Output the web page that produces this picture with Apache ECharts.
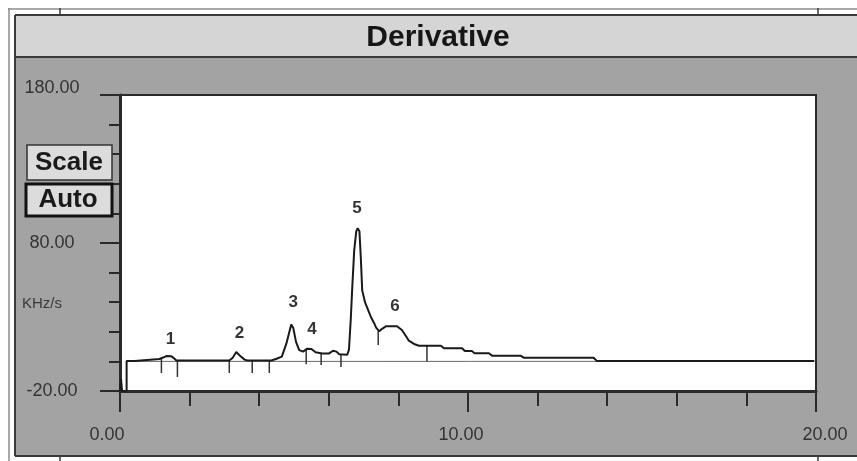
<!DOCTYPE html>
<html><head><meta charset="utf-8">
<script src="https://cdn.jsdelivr.net/npm/echarts@6/dist/echarts.min.js"></script>
<style>html,body{margin:0;padding:0;background:#fff}#c{width:857px;height:461px}</style>
</head><body><div id="c"></div>
<script>
// ---- data ----
const times = [0.00,0.03,0.06,0.19,0.19,0.42,0.45,1.13,1.24,1.33,1.48,1.56,1.62,3.14,3.24,3.34,3.44,3.58,3.66,4.35,4.50,4.65,4.78,4.92,4.98,5.06,5.15,5.26,5.38,5.50,5.62,5.81,6.01,6.12,6.22,6.30,6.53,6.58,6.63,6.67,6.73,6.79,6.83,6.88,6.92,6.96,7.04,7.10,7.21,7.30,7.36,7.45,7.53,7.65,7.96,8.10,8.22,8.30,8.45,8.59,9.22,9.31,9.83,9.91,10.11,10.19,10.60,10.69,11.51,11.60,13.61,13.70,19.95];
const signal = [-20,-12,-20,-20,0.3,0.3,1.6,1.6,2.6,3.6,3.4,2.0,0.6,0.6,2.5,6.3,4.0,1.2,0.6,0.6,1.8,3.2,12,25,22.5,13,7.6,6.6,8.6,8.4,6.2,5.4,5.4,7.2,6.6,4.8,4.5,8,28,48,75,88,90,88,70,48,40,36.5,30,26,22.8,20.3,22,23.8,23.8,21.2,17,14,11.8,10.6,10.6,8.9,8.9,7.0,7.0,5.5,5.5,3.9,3.9,2.5,2.5,0.35,0.35];
const baselineTimes = [0.19, 19.95];
const baselineValues = [0, 0];
const dropTimes   = [1.19, 1.65, 3.14, 3.80, 4.29, 5.35, 5.78, 6.35, 7.42, 8.82];
const dropTops    = [1.6, 0.5, 0.6, 0.6, 0.6, 8.3, 5.6, 4.7, 20.5, 10.6];
const dropBottoms = [-7.8, -10.5, -7.8, -7.8, -7.8, -2.0, -2.4, -3.8, 11, 0];
const peakNames = ['1','2','3','4','5','6'];
const peakLabelTimes  = [1.45, 3.43, 4.98, 5.52, 6.81, 7.90];
const peakLabelValues = [15, 19, 40, 22, 103.6, 37.4];
const xTickLabels = ['0.00','10.00','20.00'];
const yTickLabels = ['-20.00','80.00','180.00'];
const yUnit = 'KHz/s';
const titleText = 'Derivative';
const buttonTexts = ['Scale','Auto'];

const chart = echarts.init(document.getElementById('c'), null, {renderer:'canvas'});
const F = 'Liberation Sans, Arial, sans-serif';
const dark = '#2a2a2a';
const line = (x1,y1,x2,y2,stroke,w,z) => ({type:'line', z:z, shape:{x1,y1,x2,y2}, style:{stroke, lineWidth:w}});

const option = {
  animation:false,
  backgroundColor:'#ffffff',
  graphic:[
    {type:'rect', z:-10, shape:{x:15,y:57,width:842,height:399}, style:{fill:'#a3a3a3'}},
    {type:'rect', z:-10, shape:{x:15,y:15,width:842,height:42}, style:{fill:'#d5d5d5'}},
    line(8,9,857,9,'#8c8c8c',1.5,-9),
    line(9,8,9,461,'#8c8c8c',1.5,-9),
    line(15,15,857,15,'#3a3a3a',2,-9),
    line(15,15,15,456,'#3a3a3a',2,-9),
    line(15,57,857,57,'#3a3a3a',2,-9),
    line(15,456,857,456,'#3a3a3a',2,-9),
    line(60,8,60,15,'#3a3a3a',1.5,-9),
    line(818,8,818,15,'#3a3a3a',1.5,-9),
    line(60,456,60,461,'#3a3a3a',1.5,-9),
    line(818,456,818,461,'#3a3a3a',1.5,-9),
    {type:'text', z:100, x:438, y:38, style:{text:titleText, font:'bold 30px '+F, fill:'#161616', align:'center', verticalAlign:'middle'}},
    {type:'rect', z:100, shape:{x:27,y:145,width:85,height:35}, style:{fill:'#dcdcdc', stroke:'#333', lineWidth:1.5}},
    {type:'text', z:101, x:69, y:163, style:{text:buttonTexts[0], font:'bold 26px '+F, fill:'#1a1a1a', align:'center', verticalAlign:'middle'}},
    {type:'rect', z:100, shape:{x:26,y:184,width:86,height:32}, style:{fill:'#dcdcdc', stroke:'#111', lineWidth:3}},
    {type:'text', z:101, x:68, y:200, style:{text:buttonTexts[1], font:'bold 26px '+F, fill:'#1a1a1a', align:'center', verticalAlign:'middle'}},
    {type:'text', z:100, x:22, y:304, style:{text:yUnit, font:'15px '+F, fill:'#3a3a3a', align:'left', verticalAlign:'middle'}}
  ],
  grid:{left:120, right:41, top:95, bottom:70, show:true, backgroundColor:'#ffffff', borderColor:dark, borderWidth:2},
  xAxis:[
    {type:'value', position:'bottom', min:0, max:20, interval:2,
     axisLine:{show:true, onZero:false, lineStyle:{color:dark, width:3}},
     axisTick:{show:true, inside:false, length:15, lineStyle:{color:dark, width:2}},
     axisLabel:{show:false}, splitLine:{show:false}},
    {type:'value', position:'bottom', min:0, max:20, interval:10,
     axisLine:{show:false, onZero:false},
     axisTick:{show:true, inside:false, length:21, lineStyle:{color:dark, width:2}},
     axisLabel:{show:true, margin:44, verticalAlign:'middle', align:'center', color:'#333', fontSize:18, fontFamily:F,
       formatter:(v,i)=>{const s=xTickLabels[i]; return i===0?'{l|'+s+'}':(i===1?'{m|'+s+'}':'{r|'+s+'}');},
       rich:{l:{padding:[0,26,0,0], fontSize:18, color:'#333', fontFamily:F},
             m:{padding:[0,14,0,0], fontSize:18, color:'#333', fontFamily:F},
             r:{padding:[0,0,0,18], fontSize:18, color:'#333', fontFamily:F}}},
     splitLine:{show:false}}
  ],
  yAxis:[
    {type:'value', position:'left', min:-20, max:180, interval:20,
     axisLine:{show:true, onZero:false, lineStyle:{color:dark, width:3}},
     axisTick:{show:true, inside:false, length:11, lineStyle:{color:dark, width:2}},
     axisLabel:{show:false}, splitLine:{show:false}},
    {type:'value', position:'left', min:0, max:200, interval:100,
     axisLine:{show:false, onZero:false},
     axisTick:{show:true, inside:false, length:20, lineStyle:{color:dark, width:2}},
     axisLabel:{show:true, margin:68, align:'center', verticalAlign:'middle', color:'#333', fontSize:18, fontFamily:F,
       formatter:(v,i)=> i===2 ? '{t|'+yTickLabels[i]+'}' : yTickLabels[i],
       rich:{t:{padding:[0,0,14,0], fontSize:18, color:'#333', fontFamily:F}}},
     splitLine:{show:false}}
  ],
  series:[
    {type:'line', name:'baseline', xAxisIndex:0, yAxisIndex:0, symbol:'none', silent:true,
     data:baselineTimes.map((t,i)=>[t, baselineValues[i]]), lineStyle:{color:'#6a6a6a', width:1}, z:2},
    {type:'line', name:'derivative', xAxisIndex:0, yAxisIndex:0, symbol:'none',
     data:times.map((t,i)=>[t, signal[i]]), lineStyle:{color:'#1a1a1a', width:2}, z:3},
    {type:'custom', name:'drops', xAxisIndex:0, yAxisIndex:0, z:3,
     data:dropTimes.map((t,i)=>[t, dropTops[i], dropBottoms[i]]),
     renderItem:(params, api)=>{
       const p1 = api.coord([api.value(0), api.value(1)]);
       const p2 = api.coord([api.value(0), api.value(2)]);
       return {type:'line', shape:{x1:p1[0], y1:p1[1], x2:p2[0], y2:p2[1]}, style:{stroke:'#333', lineWidth:1.5}};
     }},
    {type:'scatter', name:'peaks', xAxisIndex:0, yAxisIndex:0, symbolSize:0, z:4,
     data:peakLabelTimes.map((t,i)=>({value:[t, peakLabelValues[i]], name:peakNames[i]})),
     label:{show:true, position:'inside', formatter:'{b}', fontSize:17, fontWeight:'bold', color:'#000', fontFamily:F}}
  ]
};
chart.setOption(option);
</script></body></html>
